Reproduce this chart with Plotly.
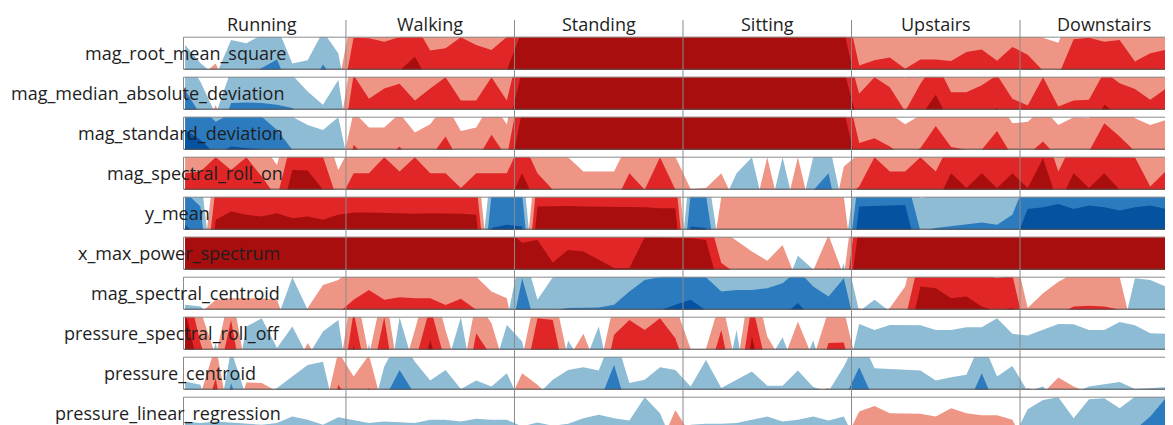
import plotly.graph_objects as go

# ---------------- data ----------------
activities = ["Running", "Walking", "Standing", "Sitting", "Upstairs", "Downstairs"]
points_per_activity = 11

features = ["mag_root_mean_square", "mag_median_absolute_deviation", "mag_standard_deviation",
            "mag_spectral_roll_on", "y_mean", "x_max_power_spectrum", "mag_spectral_centroid",
            "pressure_spectral_roll_off", "pressure_centroid", "pressure_linear_regression"]

# values in band units (|v| up to 3 = three horizon bands), 11 samples per activity
mag_root_mean_square = [
    -0.75, -0.2, 0.19, -0.9, -0.8, -1.05, -1.31, -0.19, -0.29, -1.16, -0.5,
    1.97, 1.95, 1.85, 1.97, 2.39, 1.58, 1.65, 1.98, 1.75, 1.6, 1.98,
    3.2, 3.2, 3.2, 3.2, 3.2, 3.2, 3.2, 3.2, 3.2, 3.2, 3.2,
    3.2, 3.2, 3.2, 3.2, 3.2, 3.2, 3.2, 3.2, 3.2, 3.2, 3.2,
    1.13, 1.29, 1.37, 1.03, 1.31, 1.31, 1.26, 1.54, 1.61, 1.27, 1.69,
    1.45, 0.97, 0.82, 1.92, 1.97, 1.85, 1.9, 1.25, 1.5, 1.6, 1.65]
mag_median_absolute_deviation = [
    -1.6, -0.85, 0.14, -1.2, -1.22, -1.2, -1.15, -1.05, -0.55, -0.15, -0.9,
    2.05, 1.33, 1.64, 1.79, 1.28, 1.64, 1.98, 1.28, 1.28, 1.98, 1.28,
    3.2, 3.2, 3.2, 3.2, 3.2, 3.2, 3.2, 3.2, 3.2, 3.2, 3.2,
    3.2, 3.2, 3.2, 3.2, 3.2, 3.2, 3.2, 3.2, 3.2, 3.2, 3.2,
    1.48, 1.98, 1.68, 0.95, 1.79, 2.45, 1.53, 1.53, 1.74, 2.05, 1.33,
    1.13, 1.98, 1.1, 1.28, 1.3, 2.15, 1.8, 1.63, 1.3, 1.63, 1.7]
mag_standard_deviation = [
    -2.6, -2.3, -1.85, -2.1, -2.05, -2.0, -1.6, -1.0, -0.75, -0.6, -0.98,
    1.15, 0.67, 0.67, 1.1, 0.52, 0.77, 1.4, 0.57, 0.67, 1.45, 0.77,
    3.2, 3.2, 3.2, 3.2, 3.2, 3.2, 3.2, 3.2, 3.2, 3.2, 3.2,
    3.2, 3.2, 3.2, 3.2, 3.2, 3.2, 3.2, 3.2, 3.2, 3.2, 3.2,
    1.2, 1.35, 1.1, 0.77, 1.05, 1.72, 1.08, 1.0, 1.0, 1.57, 0.8,
    0.85, 1.25, 0.75, 0.98, 0.95, 1.8, 1.4, 0.95, 0.75, 0.9, 0.9]
mag_spectral_roll_on = [
    1.5, 1.55, 1.98, 1.6, 1.98, 1.4, 0.75, 2.6, 2.58, 2.0, 0.6,
    1.5, 1.5, 1.98, 1.55, 1.98, 1.5, 1.5, 1.05, 1.5, 1.5, 1.5,
    2.5, 1.5, 1.0, 0.98, 0.55, 0.55, 0.55, 1.5, 1.0, 1.98, 1.0,
    0.02, 0.05, 0.5, -0.5, -0.98, 0.98, -0.98, 0.98, -0.98, -1.5, 0.7,
    1.1, 1.98, 1.55, 1.55, 1.98, 1.55, 2.5, 2.05, 2.5, 2.05, 2.5,
    2.05, 2.95, 1.55, 2.5, 2.05, 2.5, 2.0, 1.98, 1.1, 1.55, 1.6]
y_mean = [
    -2.15, -1.7, 2.3, 2.55, 2.45, 2.4, 2.5, 2.35, 2.4, 2.3, 2.45,
    2.52, 2.52, 2.5, 2.5, 2.48, 2.5, 2.5, 2.48, 2.45, -2.05, -2.15,
    -2.1, 2.7, 2.72, 2.72, 2.7, 2.7, 2.7, 2.68, 2.68, 2.65, 2.65,
    -2.1, -2.05, 0.99, 0.99, 0.99, 0.99, 0.99, 0.99, 0.99, 0.99, 0.99,
    -2.7, -2.72, -2.75, -2.75, -0.95, -1.05, -1.1, -1.15, -1.22, -1.15, -1.45,
    -2.63, -2.68, -2.78, -2.63, -2.73, -2.68, -2.58, -2.68, -2.73, -2.63, -2.5]
x_max_power_spectrum = [
    3.2, 3.2, 3.2, 3.2, 3.2, 3.2, 3.2, 3.2, 3.2, 3.2, 3.2,
    3.2, 3.2, 3.2, 3.2, 3.2, 3.2, 3.2, 3.2, 3.2, 3.2, 3.2,
    2.82, 2.9, 2.22, 2.6, 2.55, 2.3, 2.05, 2.05, 2.98, 2.98, 2.95,
    2.95, 2.9, 1.2, 0.88, 0.55, 0.27, 0.75, -0.42, -0.02, 1.05, -0.2,
    3.4, 3.2, 3.2, 3.2, 3.2, 3.2, 3.2, 3.2, 3.2, 3.2, 3.2,
    3.2, 3.2, 3.2, 3.2, 3.2, 3.2, 3.2, 3.2, 3.2, 3.2, 3.2]
mag_spectral_centroid = [
    -0.15, -0.1, 0.3, 0.35, 0.35, 0.35, 0.3, -0.98, 0.05, 0.75, 0.9,
    1.3, 1.6, 1.3, 1.38, 1.35, 1.35, 1.14, 1.33, 1.0, 0.55, 0.35,
    -1.95, -0.3, -0.98, -1.05, -1.05, -1.07, -1.15, -1.55, -1.9, -1.98, -2.15,
    -2.3, -1.98, -1.55, -1.6, -1.6, -1.65, -1.8, -2.2, -1.7, -1.4, -1.95,
    0.05, -0.3, 0.05, 0.7, 2.7, 2.65, 2.35, 2.4, 2.1, 1.95, 2.05,
    0.05, 0.5, 0.85, 1.1, 1.12, 1.1, 1.0, -0.95, -0.9, -0.7, -0.6]
pressure_spectral_roll_off = [
    3.2, 1.2, -0.2, 1.9, -0.7, -0.95, -0.05, -0.7, 0.2, -0.55, -0.9,
    2.15, -0.18, 1.98, -0.98, 0.6, 2.3, 0.6, -0.98, 1.5, 0.8, -0.75,
    -0.25, 1.95, 1.9, -0.28, 0.48, -0.7, 1.45, 1.9, 1.6, 1.95, 1.35,
    0.02, 0.02, 1.6, -0.6, 2.4, 0.4, -0.38, 0.85, -0.28, 1.2, 1.22,
    -0.78, -0.6, -0.75, -0.75, -0.74, -0.6, -0.6, -0.68, -0.68, -0.95, -0.48,
    -0.43, -0.6, -0.78, -0.77, -0.6, -0.6, -0.84, -0.74, -0.5, -0.48, -0.48]
pressure_centroid = [
    -0.25, -0.15, 1.35, -1.2, 0.22, 0.2, -0.05, -0.4, -0.75, -0.85, 1.15,
    0.4, 1.05, -0.7, -1.6, -0.85, -0.28, -0.6, -0.02, -0.28, -0.1, -0.5,
    0.5, 0.15, -0.3, -0.6, -0.68, -0.58, -1.75, -0.2, -0.3, -0.68, -0.6,
    -0.1, -0.9, -0.05, -0.3, -0.55, -0.12, -0.12, -0.58, -0.08, 0.05, -0.7,
    -1.68, -0.65, -0.62, -0.6, -0.58, -0.28, -0.38, -0.45, -1.5, -0.4, -0.72,
    0.05, -0.1, 0.37, 0.1, -0.1, -0.16, -0.23, -0.02, -0.05, -0.07, -0.1]
pressure_linear_regression = [
    -0.25, -0.2, -0.25, -0.22, -0.18, -0.15, -0.2, -0.4, -0.3, -0.15, -0.38,
    -0.28, -0.2, -0.25, -0.22, -0.2, -0.3, -0.3, -0.25, -0.33, -0.3, -0.3,
    -0.1, -0.22, -0.12, -0.18, -0.35, -0.45, -0.35, -0.28, -0.98, -0.5, 0.6,
    -0.15, -0.18, -0.18, -0.2, -0.3, -0.4, -0.25, -0.3, -0.4, -0.28, -0.4,
    0.55, 0.72, 0.5, 0.5, 0.48, 0.4, 0.65, 0.5, 0.44, 0.44, 0.3,
    -0.62, -0.9, -0.98, -0.35, -0.92, -0.95, -0.65, -1.0, -1.4, -1.95, -2.1]

series = [mag_root_mean_square, mag_median_absolute_deviation, mag_standard_deviation,
          mag_spectral_roll_on, y_mean, x_max_power_spectrum, mag_spectral_centroid,
          pressure_spectral_roll_off, pressure_centroid, pressure_linear_regression]

# ---------------- style / layout constants ----------------
PAGE_W, PAGE_H = 1173, 425
BODY_MARGIN = 8                      # default page margin around the plot div
W, H = PAGE_W - BODY_MARGIN, PAGE_H - BODY_MARGIN
PLOT_LEFT = 183.0
STEP = 15.32
X0_PX = 185.1
ROW_TOP0, ROW_PITCH, ROW_H = 36.7, 40.0, 33.0
TITLE_Y = 24.0
label_centers_px = [185.5, 147.7, 180.0, 195.0, 177.7, 178.8, 185.5, 172.0, 179.5, 167.7]

POS_COLORS = ["#ef9585", "#e02626", "#a80e0e"]
NEG_COLORS = ["#8ebcd4", "#2c7bbf", "#0452a0"]
FONT = "Open Sans, Noto Sans, sans-serif"


def px2x(p):
    return (p - BODY_MARGIN) / W


def py2y(p):
    return 1 - (p - BODY_MARGIN) / H


def with_crossings(xs, vs, thresholds=(-3, -2, -1, 0, 1, 2, 3)):
    X, V = [xs[0]], [vs[0]]
    for j in range(len(xs) - 1):
        x0, x1, v0, v1 = xs[j], xs[j + 1], vs[j], vs[j + 1]
        if v1 != v0:
            lo, hi = min(v0, v1), max(v0, v1)
            ts = sorted((t - v0) / (v1 - v0) for t in thresholds if lo < t < hi)
            for t in ts:
                X.append(x0 + t * (x1 - x0))
                V.append(v0 + t * (v1 - v0))
        X.append(x1)
        V.append(v1)
    return X, V


def clip01(a):
    return max(0.0, min(1.0, a))


fig = go.Figure()
n = len(series[0])
xs = list(range(n))

for r, vals in enumerate(series):
    X, V = with_crossings(xs, vals)
    yref = "y" if r == 0 else f"y{r + 1}"
    for k in range(3):
        fig.add_trace(go.Scatter(x=X, y=[clip01(v - k) for v in V], mode="lines",
                                 line=dict(width=0), fill="tozeroy", fillcolor=POS_COLORS[k],
                                 xaxis="x", yaxis=yref, hoverinfo="skip", showlegend=False))
    for k in range(3):
        fig.add_trace(go.Scatter(x=X, y=[clip01(-v - k) for v in V], mode="lines",
                                 line=dict(width=0), fill="tozeroy", fillcolor=NEG_COLORS[k],
                                 xaxis="x", yaxis=yref, hoverinfo="skip", showlegend=False))

x_min = (PLOT_LEFT - X0_PX) / STEP
x_max = (PAGE_W - X0_PX) / STEP

layout = dict(
    width=W, height=H, margin=dict(l=0, r=0, t=0, b=0),
    paper_bgcolor="white", plot_bgcolor="rgba(0,0,0,0)", showlegend=False,
    xaxis=dict(domain=[px2x(PLOT_LEFT), 1], range=[x_min, x_max], visible=False, fixedrange=True),
)

shapes = []
annotations = []
for r in range(len(series)):
    top = ROW_TOP0 + r * ROW_PITCH
    bot = top + ROW_H
    d0 = max(0.0, py2y(bot))
    d1 = py2y(top)
    lo = 0.0 if py2y(bot) >= 0 else (bot - PAGE_H) / ROW_H
    key = "yaxis" if r == 0 else f"yaxis{r + 1}"
    layout[key] = dict(domain=[d0, d1], range=[lo, 1], anchor="x", visible=False, fixedrange=True)
    # frame
    shapes.append(dict(type="line", xref="paper", yref="paper", x0=px2x(PLOT_LEFT + 0.5), x1=1.01,
                       y0=py2y(top + 0.5), y1=py2y(top + 0.5), line=dict(color="#8c8c8c", width=1),
                       layer="above"))
    shapes.append(dict(type="line", xref="paper", yref="paper", x0=px2x(PLOT_LEFT + 0.5), x1=px2x(PLOT_LEFT + 0.5),
                       y0=py2y(top + 0.5), y1=py2y(bot - 0.5), line=dict(color="#8c8c8c", width=1),
                       layer="above"))
    if bot <= PAGE_H:
        shapes.append(dict(type="line", xref="paper", yref="paper", x0=px2x(PLOT_LEFT + 0.5), x1=1.01,
                           y0=py2y(bot - 0.5), y1=py2y(bot - 0.5), line=dict(color="#4a4a4a", width=1),
                           layer="above"))
    annotations.append(dict(text=features[r], xref="paper", yref="paper", x=px2x(label_centers_px[r]),
                            y=py2y(top + ROW_H / 2), xanchor="center", yanchor="middle",
                            showarrow=False, font=dict(family=FONT, size=18, color="#1e1e1e")))

for a, name in enumerate(activities):
    start = a * points_per_activity - 0.5
    end = (a + 1) * points_per_activity - 0.5
    annotations.append(dict(text=name, xref="x", yref="paper", x=(start + end) / 2,
                            y=py2y(TITLE_Y), xanchor="center", yanchor="middle", showarrow=False,
                            font=dict(family=FONT, size=18, color="#1e1e1e")))
    if a > 0:
        shapes.append(dict(type="line", xref="x", yref="paper", x0=start, x1=start,
                           y0=0, y1=py2y(TITLE_Y - 4), line=dict(color="#8a8a8a", width=1),
                           layer="above"))

layout["shapes"] = shapes
layout["annotations"] = annotations
fig.update_layout(**layout)

fig.write_html("out.html", config={"displayModeBar": False})
